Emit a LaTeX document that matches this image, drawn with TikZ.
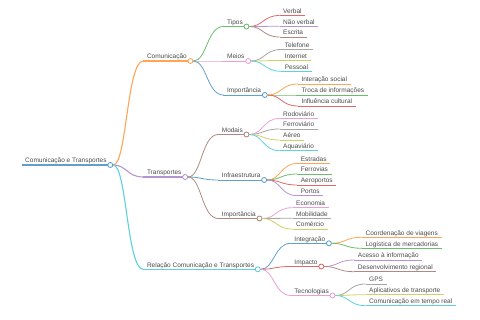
\documentclass[tikz,border=0pt]{standalone}
\usepackage{fontspec}
\setmainfont{Liberation Sans}
\usepackage{tikz}
\definecolor{cBlue}{HTML}{1F77B4}
\definecolor{cOrange}{HTML}{FF7F0E}
\definecolor{cGreen}{HTML}{2CA02C}
\definecolor{cRed}{HTML}{D62728}
\definecolor{cPurple}{HTML}{9467BD}
\definecolor{cBrown}{HTML}{8C564B}
\definecolor{cPink}{HTML}{E377C2}
\definecolor{cGray}{HTML}{7F7F7F}
\definecolor{cOlive}{HTML}{BCBD22}
\definecolor{cCyan}{HTML}{17BECF}
\definecolor{txtGray}{HTML}{4A4A4A}
\tikzset{
  topic/.style n args={2}{anchor=south west, inner xsep=3.5pt, inner ysep=0.5pt, text height=4.8pt, text depth=1.5pt,
    font=\fontsize{6.5}{7}\selectfont, text=txtGray,
    append after command={(\tikzlastnode.south west) edge[draw=#1!70!white, line width=#2] (\tikzlastnode.south east)}},
  main/.style={topic={#1}{1.1pt}, xshift=33pt},
  branch/.style={topic={#1}{0.9pt}, xshift=33pt},
  leaf/.style={topic={#1}{0.75pt}, xshift=33pt},
  dot/.style={circle, draw=#1!75!white, fill=white, line width=0.8pt, inner sep=0pt, minimum size=5pt},
  mainlink/.style={draw=#1!70!white, line width=1.1pt},
  link/.style={draw=#1!70!white, line width=0.8pt}
}
\begin{document}
\begin{tikzpicture}[x=1pt, y=-1pt]
  \useasboundingbox (0,0) rectangle (480,320);
  % root
  \node[topic={cBlue}{1.6pt}] (root) at (21.5,165) {Comunicação e Transportes};
  \node[dot=cBlue] (root-c) at (root.south east) {};

  % Comunicação
  \node[main=cOrange] (comm) at (root-c |- 0,61) {Comunicação};
  \draw[mainlink=cOrange] (root-c) .. controls +(16.5,0) and +(-16.5,0) .. (comm.south west);
  \node[dot=cOrange] (comm-c) at (comm.south east) {};

  \node[branch=cGreen] (tipos) at (comm-c |- 0,26.5) {Tipos};
  \draw[link=cGreen] (comm-c) .. controls +(16.5,0) and +(-16.5,0) .. (tipos.south west);
  \node[dot=cGreen] (tipos-c) at (tipos.south east) {};
  \node[leaf=cRed] (verbal) at (tipos-c |- 0,15.5) {Verbal};
  \node[leaf=cPurple] (naoverbal) at (tipos-c |- 0,26.3) {Não verbal};
  \node[leaf=cBrown] (escrita) at (tipos-c |- 0,37) {Escrita};
  \draw[link=cRed] (tipos-c) .. controls +(16.5,0) and +(-16.5,0) .. (verbal.south west);
  \draw[link=cPurple] (tipos-c) .. controls +(16.5,0) and +(-16.5,0) .. (naoverbal.south west);
  \draw[link=cBrown] (tipos-c) .. controls +(16.5,0) and +(-16.5,0) .. (escrita.south west);

  \node[branch=cPink] (meios) at (comm-c |- 0,61) {Meios};
  \draw[link=cPink] (comm-c) .. controls +(16.5,0) and +(-16.5,0) .. (meios.south west);
  \node[dot=cPink] (meios-c) at (meios.south east) {};
  \node[leaf=cGray] (telefone) at (meios-c |- 0,49.5) {Telefone};
  \node[leaf=cOlive] (internet) at (meios-c |- 0,60.5) {Internet};
  \node[leaf=cCyan] (pessoal) at (meios-c |- 0,71.3) {Pessoal};
  \draw[link=cGray] (meios-c) .. controls +(16.5,0) and +(-16.5,0) .. (telefone.south west);
  \draw[link=cOlive] (meios-c) .. controls +(16.5,0) and +(-16.5,0) .. (internet.south west);
  \draw[link=cCyan] (meios-c) .. controls +(16.5,0) and +(-16.5,0) .. (pessoal.south west);

  \node[branch=cBlue] (impc) at (comm-c |- 0,95) {Importância};
  \draw[link=cBlue] (comm-c) .. controls +(16.5,0) and +(-16.5,0) .. (impc.south west);
  \node[dot=cBlue] (impc-c) at (impc.south east) {};
  \node[leaf=cOrange] (interacao) at (impc-c |- 0,84) {Interação social};
  \node[leaf=cGreen] (troca) at (impc-c |- 0,95) {Troca de informações};
  \node[leaf=cRed] (influencia) at (impc-c |- 0,106) {Influência cultural};
  \draw[link=cOrange] (impc-c) .. controls +(16.5,0) and +(-16.5,0) .. (interacao.south west);
  \draw[link=cGreen] (impc-c) .. controls +(16.5,0) and +(-16.5,0) .. (troca.south west);
  \draw[link=cRed] (impc-c) .. controls +(16.5,0) and +(-16.5,0) .. (influencia.south west);

  % Transportes
  \node[main=cPurple] (transp) at (root-c |- 0,177) {Transportes};
  \draw[mainlink=cPurple] (root-c) .. controls +(16.5,0) and +(-16.5,0) .. (transp.south west);
  \node[dot=cPurple] (transp-c) at (transp.south east) {};

  \node[branch=cBrown] (modais) at (transp-c |- 0,134.5) {Modais};
  \draw[link=cBrown] (transp-c) .. controls +(16.5,0) and +(-16.5,0) .. (modais.south west);
  \node[dot=cBrown] (modais-c) at (modais.south east) {};
  \node[leaf=cPink] (rodo) at (modais-c |- 0,118.5) {Rodoviário};
  \node[leaf=cGray] (ferro) at (modais-c |- 0,129) {Ferroviário};
  \node[leaf=cOlive] (aereo) at (modais-c |- 0,140) {Aéreo};
  \node[leaf=cCyan] (aqua) at (modais-c |- 0,150.7) {Aquaviário};
  \draw[link=cPink] (modais-c) .. controls +(16.5,0) and +(-16.5,0) .. (rodo.south west);
  \draw[link=cGray] (modais-c) .. controls +(16.5,0) and +(-16.5,0) .. (ferro.south west);
  \draw[link=cOlive] (modais-c) .. controls +(16.5,0) and +(-16.5,0) .. (aereo.south west);
  \draw[link=cCyan] (modais-c) .. controls +(16.5,0) and +(-16.5,0) .. (aqua.south west);

  \node[branch=cBlue] (infra) at (transp-c |- 0,180) {Infraestrutura};
  \draw[link=cBlue] (transp-c) .. controls +(16.5,0) and +(-16.5,0) .. (infra.south west);
  \node[dot=cBlue] (infra-c) at (infra.south east) {};
  \node[leaf=cOrange] (estradas) at (infra-c |- 0,163.5) {Estradas};
  \node[leaf=cGreen] (ferrovias) at (infra-c |- 0,174) {Ferrovias};
  \node[leaf=cRed] (aeroportos) at (infra-c |- 0,185) {Aeroportos};
  \node[leaf=cPurple] (portos) at (infra-c |- 0,195.7) {Portos};
  \draw[link=cOrange] (infra-c) .. controls +(16.5,0) and +(-16.5,0) .. (estradas.south west);
  \draw[link=cGreen] (infra-c) .. controls +(16.5,0) and +(-16.5,0) .. (ferrovias.south west);
  \draw[link=cRed] (infra-c) .. controls +(16.5,0) and +(-16.5,0) .. (aeroportos.south west);
  \draw[link=cPurple] (infra-c) .. controls +(16.5,0) and +(-16.5,0) .. (portos.south west);

  \node[branch=cBrown] (impt) at (transp-c |- 0,218.5) {Importância};
  \draw[link=cBrown] (transp-c) .. controls +(16.5,0) and +(-16.5,0) .. (impt.south west);
  \node[dot=cBrown] (impt-c) at (impt.south east) {};
  \node[leaf=cPink] (economia) at (impt-c |- 0,207.7) {Economia};
  \node[leaf=cGray] (mobilidade) at (impt-c |- 0,218.3) {Mobilidade};
  \node[leaf=cOlive] (comercio) at (impt-c |- 0,229) {Comércio};
  \draw[link=cPink] (impt-c) .. controls +(16.5,0) and +(-16.5,0) .. (economia.south west);
  \draw[link=cGray] (impt-c) .. controls +(16.5,0) and +(-16.5,0) .. (mobilidade.south west);
  \draw[link=cOlive] (impt-c) .. controls +(16.5,0) and +(-16.5,0) .. (comercio.south west);

  % Relação
  \node[main=cCyan] (rel) at (root-c |- 0,269.3) {Relação Comunicação e Transportes};
  \draw[mainlink=cCyan] (root-c) .. controls +(16.5,0) and +(-16.5,0) .. (rel.south west);
  \node[dot=cCyan] (rel-c) at (rel.south east) {};

  \node[branch=cBlue] (integ) at (rel-c |- 0,243.3) {Integração};
  \draw[link=cBlue] (rel-c) .. controls +(16.5,0) and +(-16.5,0) .. (integ.south west);
  \node[dot=cBlue] (integ-c) at (integ.south east) {};
  \node[leaf=cOrange] (coord) at (integ-c |- 0,237.3) {Coordenação de viagens};
  \node[leaf=cGreen] (logist) at (integ-c |- 0,248.3) {Logística de mercadorias};
  \draw[link=cOrange] (integ-c) .. controls +(16.5,0) and +(-16.5,0) .. (coord.south west);
  \draw[link=cGreen] (integ-c) .. controls +(16.5,0) and +(-16.5,0) .. (logist.south west);

  \node[branch=cRed] (impacto) at (rel-c |- 0,266.5) {Impacto};
  \draw[link=cRed] (rel-c) .. controls +(16.5,0) and +(-16.5,0) .. (impacto.south west);
  \node[dot=cRed] (impacto-c) at (impacto.south east) {};
  \node[leaf=cPurple] (acesso) at (impacto-c |- 0,260) {Acesso à informação};
  \node[leaf=cBrown] (desenv) at (impacto-c |- 0,271.7) {Desenvolvimento regional};
  \draw[link=cPurple] (impacto-c) .. controls +(16.5,0) and +(-16.5,0) .. (acesso.south west);
  \draw[link=cBrown] (impacto-c) .. controls +(16.5,0) and +(-16.5,0) .. (desenv.south west);

  \node[branch=cPink] (tecno) at (rel-c |- 0,295.5) {Tecnologias};
  \draw[link=cPink] (rel-c) .. controls +(16.5,0) and +(-16.5,0) .. (tecno.south west);
  \node[dot=cPink] (tecno-c) at (tecno.south east) {};
  \node[leaf=cGray] (gps) at (tecno-c |- 0,284) {GPS};
  \node[leaf=cOlive] (apps) at (tecno-c |- 0,294.7) {Aplicativos de transporte};
  \node[leaf=cCyan] (tempo) at (tecno-c |- 0,305.7) {Comunicação em tempo real};
  \draw[link=cGray] (tecno-c) .. controls +(16.5,0) and +(-16.5,0) .. (gps.south west);
  \draw[link=cOlive] (tecno-c) .. controls +(16.5,0) and +(-16.5,0) .. (apps.south west);
  \draw[link=cCyan] (tecno-c) .. controls +(16.5,0) and +(-16.5,0) .. (tempo.south west);
\end{tikzpicture}
\end{document}
